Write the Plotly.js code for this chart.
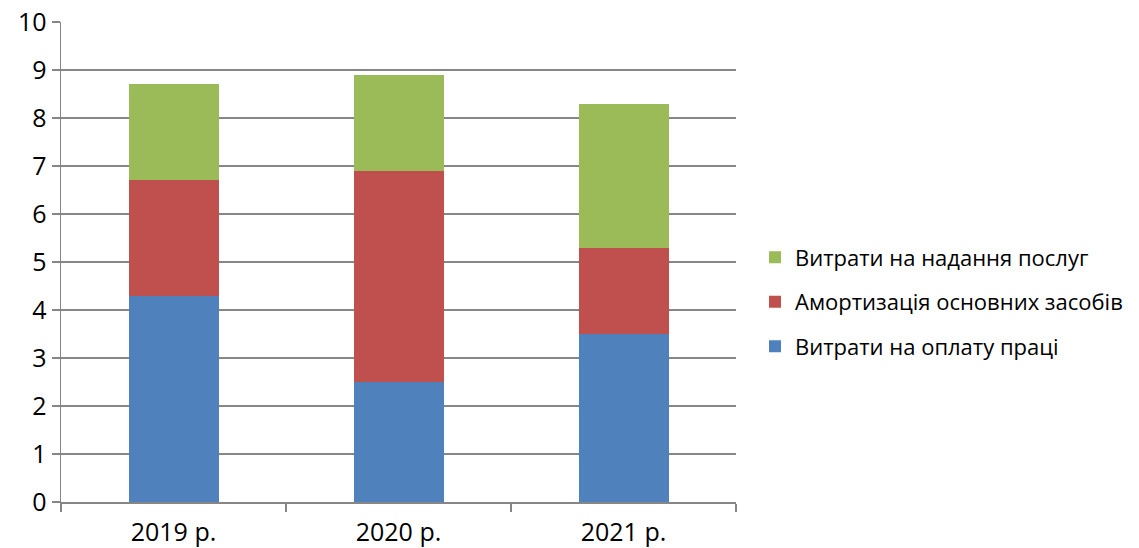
<!DOCTYPE html>
<html>
<head>
<meta charset="utf-8">
<script src="https://cdn.plot.ly/plotly-3.0.1.min.js"></script>
<style>html,body{margin:0;padding:0;background:#fff;}#chart{width:1139px;height:548px;}</style>
</head>
<body>
<div id="chart"></div>
<script>
const categories = ['2019 р.', '2020 р.', '2021 р.'];
const seriesNames = ['Витрати на оплату праці', 'Амортизація основних засобів', 'Витрати на надання послуг'];
const labour = [4.3, 2.5, 3.5];
const depreciation = [2.4, 4.4, 1.8];
const services = [2.0, 2.0, 3.0];
const colors = ['#4F81BD', '#C0504D', '#9BBB59'];
const yTicks = [0,1,2,3,4,5,6,7,8,9,10];

const values = [labour, depreciation, services];
const traces = values.map((v, i) => ({
  type: 'bar',
  x: categories,
  y: v,
  name: seriesNames[i],
  legendgroup: 'g' + i,
  legendrank: 1000 - i,
  marker: {color: colors[i], line: {width: 0}},
  hoverinfo: 'skip'
}));

const font = "Open Sans, Noto Sans, sans-serif";
const layout = {
  width: 1139, height: 548,
  margin: {l: 61, r: 402, t: 22, b: 46},
  barmode: 'stack',
  bargap: 0.6,
  paper_bgcolor: '#fff', plot_bgcolor: '#fff',
  font: {family: font, size: 24, color: '#000'},
  showlegend: true,
  legend: {
    traceorder: 'grouped',
    tracegroupgap: 13,
    x: (755 - 61) / 676, xanchor: 'left', y: 0.417, yanchor: 'middle',
    font: {family: font, size: 22, color: '#000'},
    itemwidth: 30
  },
  xaxis: {
    type: 'category',
    tickson: 'boundaries',
    ticks: 'outside', ticklen: 8, tickcolor: '#868686', tickwidth: 1.5,
    showline: true, linecolor: '#868686', linewidth: 1.5,
    showgrid: false, zeroline: false,
    ticklabelstandoff: 7,
    tickfont: {family: font, size: 25, color: '#000'}
  },
  yaxis: {
    range: [0, 10],
    tickvals: yTicks,
    ticks: 'outside', ticklen: 8, tickcolor: '#868686', tickwidth: 1.5,
    showline: true, linecolor: '#868686', linewidth: 1.5,
    showgrid: true, gridcolor: '#868686', gridwidth: 1.5,
    zeroline: false,
    tickfont: {family: font, size: 25, color: '#000'}
  }
};

Plotly.newPlot('chart', traces, layout, {displayModeBar: false, staticPlot: true});
</script>
</body>
</html>
